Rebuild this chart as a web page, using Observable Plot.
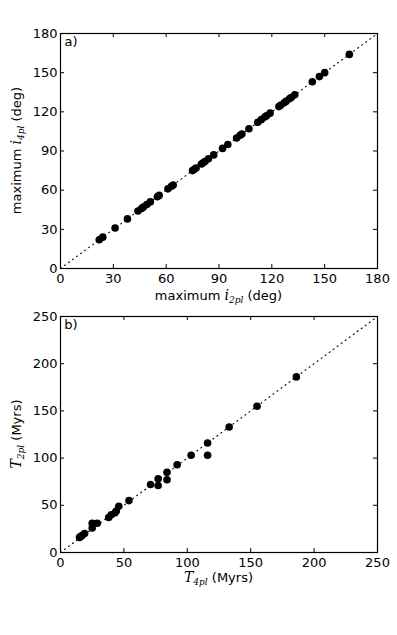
<!DOCTYPE html>
<html><head><meta charset="utf-8">
<script src="https://cdn.jsdelivr.net/npm/d3@7"></script>
<script src="https://cdn.jsdelivr.net/npm/@observablehq/plot@0.6"></script>
<style>
body{margin:0;background:#fff;}
#chart svg{display:block;}
</style></head><body><div id="chart"></div>
<script>
// Panel a: maximum inclination (deg)
const incl2pl = [22,24,31,38,44,46,47,49,51,55,56,61,63,64,75,76,77,80,81,82,84,87,92,95,100,102,103,107,112,114,116,117,119,124,125,127,128,130,131,133,143,147,150,164];
const incl4pl = [22,24,31,38,44,46,47,49,51,55,56,61,63,64,75,76,77,80,81,82,84,87,92,95,100,102,103,107,112,114,116,117,119,124,125,127,128,130,131,133,143,147,150,164];
// Panel b: periods (Myrs)
const period4pl = [15,16,17,19,25,25,29,38,40,43,44,46,54,71,77,77,84,84,92,103,116,116,133,155,186];
const period2pl = [16,17,18,20,31,26,31,37,40,42,44,49,55,72,78,71,85,77,93,103,116,103,133,155,186];
const inclTicks = [0,30,60,90,120,150,180];
const periodTicks = [0,50,100,150,200,250];
const inclDomain = [0,180];
const periodDomain = [0,250];

const W = 397;
const FS = "13px";
function panel({xs, ys, domain, ticks, height, marginTop, marginBottom, tag, tagY, xLab, yLab, xLabY}) {
  const marginLeft = 60, marginRight = 20;
  const innerW = W - marginLeft - marginRight;
  const innerH = height - marginTop - marginBottom;
  const pts = xs.map((x, i) => ({x, y: ys[i]}));
  const tl = 4;
  const p = Plot.plot({
    width: W, height, marginLeft, marginRight, marginTop, marginBottom,
    style: {fontFamily: "DejaVu Sans", fontSize: FS, background: "white", color: "black"},
    x: {domain, ticks, label: null},
    y: {domain, ticks, label: null},
    marks: [
      Plot.line(domain, {x: d => d, y: d => d, stroke: "black", strokeWidth: 1.1, strokeDasharray: "1,4"}),
      Plot.dot(pts, {x: "x", y: "y", r: 3.8, fill: "black"}),
      Plot.ruleX(ticks, {x: d => d, insetTop: innerH - tl, stroke: "black"}),
      Plot.ruleX(ticks, {x: d => d, insetBottom: innerH - tl, stroke: "black"}),
      Plot.ruleY(ticks, {y: d => d, insetRight: innerW - tl, stroke: "black"}),
      Plot.ruleY(ticks, {y: d => d, insetLeft: innerW - tl, stroke: "black"}),
      Plot.frame({stroke: "black", strokeWidth: 1.2}),
      Plot.axisX({anchor: "bottom", ticks, tickSize: 0, tickPadding: 5, fontSize: 13, label: null}),
      Plot.axisY({anchor: "left", ticks, tickSize: 0, tickPadding: 3, fontSize: 13, label: null})
    ]
  });
  const svg = d3.select(p);
  svg.append("text").attr("x", 71).attr("y", tagY)
    .style("font-family", "DejaVu Sans").style("font-size", FS).text(tag);
  function label(sel, parts) {
    for (const part of parts) {
      const t = sel.append("tspan").text(part.t);
      if (part.math) t.attr("font-family", "DejaVu Serif").attr("font-style", "italic").attr("font-size", "14px");
      if (part.sub) t.attr("font-family", "DejaVu Serif").attr("font-style", "italic").attr("font-size", "9px").attr("dy", 3);
      if (part.up) t.attr("dy", -3);
    }
  }
  const xl = svg.append("text")
    .attr("x", marginLeft + innerW / 2).attr("y", xLabY)
    .attr("text-anchor", "middle")
    .style("font-family", "DejaVu Sans").style("font-size", FS);
  label(xl, xLab);
  const yl = svg.append("text")
    .attr("transform", `translate(21,${marginTop + innerH / 2}) rotate(-90)`)
    .attr("text-anchor", "middle")
    .style("font-family", "DejaVu Sans").style("font-size", FS);
  label(yl, yLab);
  return p;
}

const chart = document.getElementById("chart");
chart.appendChild(panel({
  xs: incl2pl, ys: incl4pl, domain: inclDomain, ticks: inclTicks,
  height: 308, marginTop: 33, marginBottom: 40, tag: "a)", tagY: 46, xLabY: 300,
  xLab: [{t: "maximum "}, {t: "i", math: true}, {t: "2pl", sub: true}, {t: " (deg)", up: true}],
  yLab: [{t: "maximum "}, {t: "i", math: true}, {t: "4pl", sub: true}, {t: " (deg)", up: true}]
}));
chart.appendChild(panel({
  xs: period4pl, ys: period2pl, domain: periodDomain, ticks: periodTicks,
  height: 327, marginTop: 8, marginBottom: 83, tag: "b)", tagY: 21, xLabY: 274,
  xLab: [{t: "T", math: true}, {t: "4pl", sub: true}, {t: " (Myrs)", up: true}],
  yLab: [{t: "T", math: true}, {t: "2pl", sub: true}, {t: " (Myrs)", up: true}]
}));
</script></body></html>
